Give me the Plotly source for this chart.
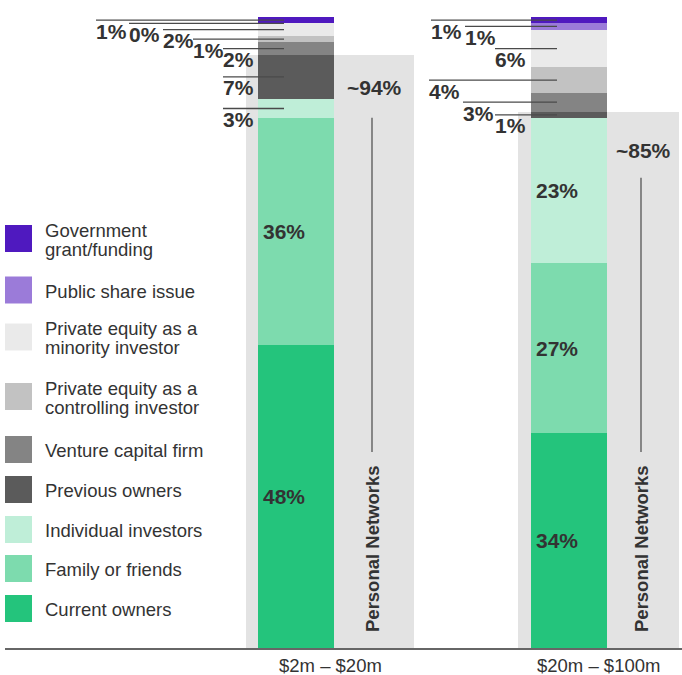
import plotly.graph_objects as go

# ---------------- data ----------------
categories = ["$2m – $20m", "$20m – $100m"]
series_names = [
    "Current owners", "Family or friends", "Individual investors", "Previous owners",
    "Venture capital firm", "Private equity as a controlling investor",
    "Private equity as a minority investor", "Public share issue", "Government grant/funding",
]
legend_lines = [
    ["Current owners"], ["Family or friends"], ["Individual investors"], ["Previous owners"],
    ["Venture capital firm"], ["Private equity as a", "controlling investor"],
    ["Private equity as a", "minority investor"], ["Public share issue"],
    ["Government", "grant/funding"],
]
current_owners = [48, 34]
family_or_friends = [36, 27]
individual_investors = [3, 23]
previous_owners = [7, 1]
venture_capital_firm = [2, 3]
pe_controlling = [1, 4]
pe_minority = [2, 6]
public_share_issue = [0, 1]
government_grant = [1, 1]
personal_networks = [94, 85]
personal_networks_text = "Personal Networks"

series_values = [current_owners, family_or_friends, individual_investors, previous_owners,
                 venture_capital_firm, pe_controlling, pe_minority, public_share_issue,
                 government_grant]

# ---------------- styles ----------------
colors = ["#24c47c", "#7ddbae", "#bfeed8", "#5b5b5b", "#848484", "#c2c2c2",
          "#eaeaea", "#9b7bd9", "#4f19bf"]
box_color = "#e3e3e3"
text_color = "#333333"
line_color = "#4a4a4a"
FONT = "Liberation Sans, Arial, sans-serif"

# ---------------- geometry (pixels) ----------------
W, H = 682, 675
ML, MR, MT, MB = 5, 0, 10, 27
PX_L, PX_R, PX_T, PX_B = ML, W - MR, MT, H - MB
CAT_PX = [296, 569]
UNIT = CAT_PX[1] - CAT_PX[0]           # px per category step
Y_TOP_PX = 17                           # pixel row of 100 %
YMAX = 100 * (PX_B - PX_T) / (PX_B - Y_TOP_PX)

def dx(px):          # pixel width -> x data units
    return px / UNIT

def ypx(py):         # pixel row -> y data
    return (PX_B - py) / (PX_B - PX_T) * YMAX

def paper_x(px):
    return (px - PX_L) / (PX_R - PX_L)

def paper_y(py):
    return (PX_B - py) / (PX_B - PX_T)

BAR_W = 76
BAR_OFF = -38
BOX_W = [168, 161]
BOX_OFF = [-50, -51]

fig = go.Figure()

# background "Personal Networks" boxes
fig.add_trace(go.Bar(
    x=categories, y=personal_networks, base=[0, 0],
    offset=[dx(o) for o in BOX_OFF], width=[dx(w) for w in BOX_W],
    marker=dict(color=box_color, line=dict(width=0)),
    showlegend=False, hoverinfo="skip",
))

# stacked segments with explicit bases
bases = []
run = [0, 0]
for vals in series_values:
    bases.append(run[:])
    run = [run[j] + vals[j] for j in range(len(vals))]

for k, vals in enumerate(series_values):
    fig.add_trace(go.Bar(
        x=categories, y=vals, base=bases[k], name=series_names[k],
        offset=dx(BAR_OFF), width=dx(BAR_W),
        marker=dict(color=colors[k], line=dict(width=0)),
        showlegend=False,
    ))

shapes = []
annotations = []

label_font = dict(family=FONT, size=21, color=text_color, weight=700)

leader_left_px = {
    0: {2: 223, 3: 223, 4: 223, 5: 193, 6: 163, 7: 129, 8: 96},
    1: {3: 495, 4: 463, 5: 429, 6: 495, 7: 465, 8: 431},
}
for k, vals in enumerate(series_values):
    for i, v in enumerate(vals):
        mid = bases[k][i] + v / 2
        if v >= 10:
            annotations.append(dict(
                x=i, y=mid, xref="x", yref="y", text=f"{v}%", showarrow=False,
                xanchor="left", yanchor="middle", xshift=BAR_OFF + 3,
                font=label_font,
            ))
        else:
            left = leader_left_px[i][k]
            x0 = i + dx(left - CAT_PX[i])
            x1 = i + dx(BAR_OFF + 26)
            shapes.append(dict(type="line", xref="x", yref="y", x0=x0, x1=x1,
                               y0=mid, y1=mid, line=dict(color=line_color, width=1.3),
                               layer="above"))
            annotations.append(dict(
                x=x0, y=mid, xref="x", yref="y", text=f"{v}%", showarrow=False,
                xanchor="left", yanchor="middle", yshift=-11, xshift=-2,
                font=label_font,
            ))

# personal networks labels + vertical lines
pn_label_shift = [-33, -39]
pn_line_top = [63, 66]
pn_line_bottom_px = 452
pn_text_center_px = 549
for i, v in enumerate(personal_networks):
    bar_right = CAT_PX[i] + BAR_OFF + BAR_W
    box_right = CAT_PX[i] + BOX_OFF[i] + BOX_W[i]
    cx = i + dx((bar_right + box_right) / 2 - CAT_PX[i])
    annotations.append(dict(
        x=cx, y=v, xref="x", yref="y", text=f"~{v}%", showarrow=False,
        xanchor="center", yanchor="middle", yshift=pn_label_shift[i],
        font=label_font,
    ))
    top_px = (PX_B - (v / YMAX) * (PX_B - PX_T)) + pn_line_top[i]
    lx = cx - dx(2)
    shapes.append(dict(type="line", xref="x", yref="y", x0=lx, x1=lx,
                       y0=ypx(top_px), y1=ypx(pn_line_bottom_px),
                       line=dict(color="#555555", width=1.3), layer="above"))
    annotations.append(dict(
        x=lx, y=ypx(pn_text_center_px), xref="x", yref="y",
        text=personal_networks_text, textangle=-90, showarrow=False,
        xanchor="center", yanchor="middle",
        font=dict(family=FONT, size=18.5, color=text_color, weight=700),
    ))

# category labels centred on grey boxes
for i, c in enumerate(categories):
    box_left = CAT_PX[i] + BOX_OFF[i]
    box_right = box_left + BOX_W[i]
    cx = i + dx((box_left + box_right) / 2 - CAT_PX[i])
    annotations.append(dict(
        x=cx, y=paper_y(665), xref="x", yref="paper", text=c, showarrow=False,
        xanchor="center", yanchor="middle",
        font=dict(family=FONT, size=18.5, color=text_color),
    ))

# custom legend (top to bottom = reverse of stacking order)
legend_centers_px = [238.5, 290, 337, 396.5, 449.5, 489.5, 529.5, 568.5, 608.5]
LINE_H = 19
for n, k in enumerate(reversed(range(len(series_names)))):
    cy = legend_centers_px[n]
    shapes.append(dict(type="rect", xref="paper", yref="paper",
                       x0=paper_x(5), x1=paper_x(32),
                       y0=paper_y(cy + 13.5), y1=paper_y(cy - 13.5),
                       fillcolor=colors[k], line=dict(width=0), layer="above"))
    lines = legend_lines[k]
    for m, txt in enumerate(lines):
        ly = cy + 1 + (m - (len(lines) - 1) / 2) * LINE_H
        annotations.append(dict(
            x=paper_x(44), y=paper_y(ly), xref="paper", yref="paper",
            text=txt, showarrow=False, align="left",
            xanchor="left", yanchor="middle", xshift=-1,
            font=dict(family=FONT, size=18.5, color=text_color),
        ))

fig.update_layout(
    width=W, height=H,
    margin=dict(l=ML, r=MR, t=MT, b=MB, pad=0),
    paper_bgcolor="white", plot_bgcolor="white",
    barmode="overlay", bargap=0,
    showlegend=False, hovermode=False,
    shapes=shapes, annotations=annotations,
    xaxis=dict(type="category", range=[-dx(CAT_PX[0] - PX_L), 1 + dx(PX_R - CAT_PX[1])],
               showticklabels=False, ticks="", showgrid=False, zeroline=False,
               showline=True, linecolor="#666666", linewidth=2, fixedrange=True),
    yaxis=dict(range=[0, YMAX], visible=False, showgrid=False, zeroline=False,
               fixedrange=True),
)

fig.write_html(
    "out.html",
    config={"displayModeBar": False, "staticPlot": True},
    post_script="document.body.style.margin='0px';document.body.style.padding='0px';"
                "document.body.style.overflow='hidden';",
)
